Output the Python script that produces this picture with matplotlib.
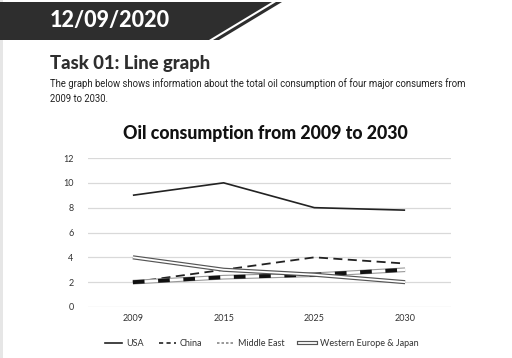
import matplotlib
matplotlib.use("Agg")
import matplotlib.pyplot as plt
from matplotlib.patches import Polygon, Rectangle
from matplotlib.lines import Line2D

years = ["2009", "2015", "2025", "2030"]
usa = [9.0, 10.0, 8.0, 7.8]
china = [2.0, 3.0, 4.0, 3.5]
middle_east = [2.0, 2.4, 2.6, 3.0]
we_japan = [4.0, 3.0, 2.6, 2.0]
yticks = [0, 2, 4, 6, 8, 10, 12]
series_names = ["USA", "China", "Middle East", "Western Europe & Japan"]

W, H = 512, 358
fig = plt.figure(figsize=(W / 100, H / 100), dpi=100)
fig.patch.set_facecolor("white")

# overlay for decorations in pixel coordinates
ov = fig.add_axes([0, 0, 1, 1], zorder=-1)
ov.set_xlim(0, W)
ov.set_ylim(H, 0)
ov.axis("off")
ov.add_patch(Rectangle((0, 0), 3, H, color="#e6e6e6", lw=0))
ov.add_patch(Polygon([(0, 2), (272, 2), (209, 40), (0, 40)], closed=True, color="#2e2e2e", lw=0))
ov.add_patch(Polygon([(276, 2), (282, 2), (219, 40), (213, 40)], closed=True, color="#2e2e2e", lw=0))
ov.text(50, 21, "12/09/2020", color="white", fontsize=15.5, fontweight="black",
        family="Lato", va="center", ha="left")
ov.text(50, 63, "Task 01: Line graph", color="#2e2e2e", fontsize=13.3, fontweight="black",
        family="Lato", va="center", ha="left")
ov.text(50, 84, "The graph below shows information about the total oil consumption of four major consumers from",
        color="#222222", fontsize=6.87, family="Roboto", va="center", ha="left")
ov.text(50, 99, "2009 to 2030.", color="#222222", fontsize=6.87, family="Roboto", va="center", ha="left")

ax = fig.add_axes([87.5 / W, 1 - 307 / H, 363 / W, 149 / H])
x = list(range(len(years)))

ax.plot(x, usa, color="#222222", lw=1.2, solid_capstyle="butt")
ax.plot(x, china, color="#222222", lw=1.3, dashes=(5, 3))
# Middle East: gray outlined line with thick black dashes
ax.plot(x, middle_east, color="#999999", lw=3.4, solid_capstyle="butt")
ax.plot(x, middle_east, color="white", lw=1.8, solid_capstyle="butt")
ax.plot(x, middle_east, color="#111111", lw=2.8, dashes=(3, 3.5))
# Western Europe & Japan: double line
ax.plot(x, we_japan, color="#555555", lw=3.0, solid_capstyle="butt")
ax.plot(x, we_japan, color="white", lw=1.3, solid_capstyle="butt")

ax.set_xlim(-0.5, len(years) - 0.5)
ax.set_ylim(0, 12)
ax.set_yticks(yticks)
ax.set_yticklabels([str(v) for v in yticks])
ax.set_xticks(x)
ax.set_xticklabels(years)
ax.grid(axis="y", color="#d9d9d9", lw=0.9)
ax.set_axisbelow(True)
for s in ax.spines.values():
    s.set_visible(False)
ax.tick_params(length=0, labelsize=6.5, colors="#333333")
ax.tick_params(axis="y", pad=10)
ax.tick_params(axis="x", pad=5)
for lab in ax.get_xticklabels() + ax.get_yticklabels():
    lab.set_family("Lato")

fig.text(265 / W, 1 - 133 / H, "Oil consumption from 2009 to 2030", ha="center", va="center",
         fontsize=12.8, fontweight="black", family="Lato", color="#111111")

# legend
handles = [
    Line2D([], [], color="#222222", lw=1.2),
    Line2D([], [], color="#222222", lw=1.2, dashes=(2.5, 2)),
    Line2D([], [], color="#888888", lw=1.2, dashes=(1.5, 1.2)),
    (Line2D([], [], color="#555555", lw=3.0), Line2D([], [], color="white", lw=1.3)),
]
leg = fig.legend(handles, series_names, loc="center", bbox_to_anchor=(262 / W, 1 - 344 / H),
                 ncol=4, frameon=False, handlelength=1.9, columnspacing=1.6,
                 handletextpad=0.45, prop={"family": "Lato", "size": 6.5})
for t in leg.get_texts():
    t.set_color("#333333")

fig.savefig("out.png", dpi=100, facecolor="white")
